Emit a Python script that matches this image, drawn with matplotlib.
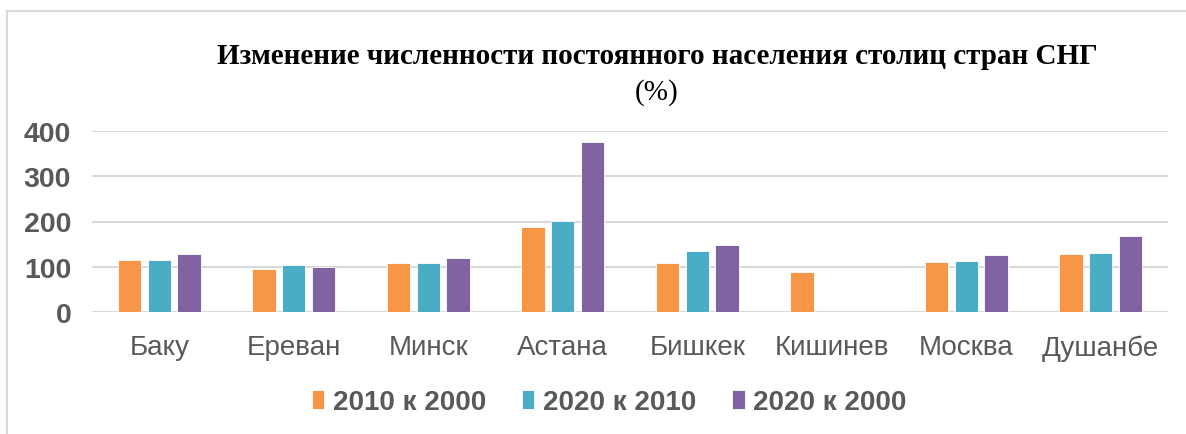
import matplotlib

matplotlib.use("Agg")
import matplotlib.pyplot as plt
import numpy as np
from matplotlib.lines import Line2D

cities = ["Баку", "Ереван", "Минск", "Астана", "Бишкек", "Кишинев", "Москва", "Душанбе"]
series_names = ["2010 к 2000", "2020 к 2010", "2020 к 2000"]
v_2010_2000 = [114, 95, 109, 187, 109, 89, 111, 129]
v_2020_2010 = [114, 103, 109, 201, 134, np.nan, 113, 131]
v_2020_2000 = [129, 99, 120, 376, 147, np.nan, 125, 169]
yticks = [0, 100, 200, 300, 400]

colors = ["#F79646", "#4BACC6", "#8064A2"]
GRAY = "#595959"

fig = plt.figure(figsize=(11.86, 4.35), dpi=100)
ax = fig.add_axes([92 / 1186, 122 / 435, (1168 - 92) / 1186, 181 / 435])

x = np.arange(len(cities))
width = 0.173
step = 0.222
for k, (vals, col) in enumerate(zip([v_2010_2000, v_2020_2010, v_2020_2000], colors)):
    ax.bar(x + (k - 1) * step, vals, width=width, color=col, edgecolor="white",
           linewidth=0.6, zorder=3, label=series_names[k])

ax.set_xlim(-0.5, len(cities) - 0.5)
ax.set_ylim(0, 400)
ax.set_yticks(yticks)
ax.set_yticklabels([str(t) for t in yticks], fontsize=20.5, fontweight="bold",
                   color=GRAY, family="Liberation Sans")
ax.set_xticks(x)
ax.set_xticklabels(cities, fontsize=20, color=GRAY, family="Liberation Sans")
ax.tick_params(axis="y", length=0, pad=15)
ax.tick_params(axis="x", length=0, pad=16)
ax.grid(axis="y", color="#D9D9D9", lw=1.5, zorder=0)
for s in ax.spines.values():
    s.set_visible(False)

fig.text(657 / 1186, 1 - 57 / 435, "Изменение численности постоянного населения столиц стран СНГ",
         ha="center", va="center", fontsize=21, fontweight="bold", family="Liberation Serif")
fig.text(657 / 1186, 1 - 93 / 435, "(%)", ha="center", va="center", fontsize=21,
         family="Liberation Serif")

leg = fig.legend(loc="center", bbox_to_anchor=(609 / 1186, 1 - 403 / 435), ncol=3,
                 frameon=False, handlelength=0.45, handleheight=0.7, handletextpad=0.3,
                 columnspacing=1.3, prop={"family": "Liberation Sans", "weight": "bold", "size": 20})
for t in leg.get_texts():
    t.set_color(GRAY)

# outer chart frame (only top and left edges visible)
fig.add_artist(Line2D([7 / 1186, 1], [1 - 12 / 435, 1 - 12 / 435], color="#D9D9D9", lw=1.5))
fig.add_artist(Line2D([7 / 1186, 7 / 1186], [0, 1 - 12 / 435], color="#D9D9D9", lw=1.5))

fig.savefig("out.png", dpi=100)
